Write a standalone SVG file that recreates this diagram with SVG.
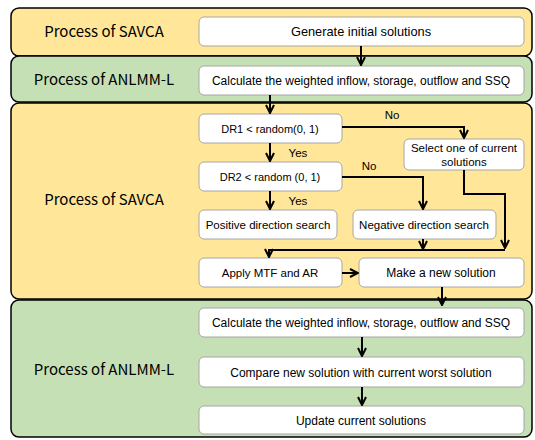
<svg xmlns="http://www.w3.org/2000/svg" width="535" height="440" viewBox="0 0 535 440">
<style>
.yel{fill:#FFE699;stroke:#000;stroke-width:1.5}
.grn{fill:#C5E0B4;stroke:#000;stroke-width:1.5}
.box{fill:#fff;stroke:#a6a6a6;stroke-width:1}
.lbl{font-family:"Noto Sans CJK KR","Noto Sans",sans-serif;font-size:15px;fill:#000;text-anchor:middle}
.t{font-family:"Liberation Sans",Arial,sans-serif;font-size:11.5px;fill:#000;text-anchor:middle}
.w{font-size:12px}
.g{font-size:12.8px}
.s{font-size:11px}
.c{fill:none;stroke:#000;stroke-width:2}
</style>
<defs>
<marker id="ah" viewBox="0 0 10 10" refX="9" refY="5" markerWidth="10" markerHeight="10" markerUnits="userSpaceOnUse" orient="auto">
<path d="M1,1 L9,5 L1,9" fill="none" stroke="#000" stroke-width="2"/>
</marker>
</defs>
<g id="panel1"><rect class="yel" x="11" y="8" width="521" height="48" rx="8"/><text class="lbl" x="104" y="37">Process of SAVCA</text></g>
<g id="panel2"><rect class="grn" x="11" y="56" width="521" height="46" rx="8"/><text class="lbl" x="104" y="85">Process of ANLMM-L</text></g>
<g id="panel3"><rect class="yel" x="11" y="103" width="521" height="196" rx="8"/><text class="lbl" x="104" y="205">Process of SAVCA</text></g>
<g id="panel4"><rect class="grn" x="11" y="300" width="521" height="137" rx="8"/><text class="lbl" x="104" y="375">Process of ANLMM-L</text></g>
<g id="n1"><rect class="box" x="199" y="17" width="325" height="29" rx="5"/><text class="t g" x="361" y="36">Generate initial solutions</text></g>
<g id="n2"><rect class="box" x="199" y="66" width="325" height="29" rx="5"/><text class="t w" x="361" y="85">Calculate the weighted inflow, storage, outflow and SSQ</text></g>
<g id="n3"><rect class="box" x="199" y="114" width="143" height="29" rx="5"/><text class="t s" x="270" y="132.5">DR1 &lt; random(0, 1)</text></g>
<g id="n4"><rect class="box" x="404" y="139" width="120" height="31" rx="5"/><text class="t" x="464" y="152">Select one of current</text><text class="t" x="464" y="166">solutions</text></g>
<g id="n5"><rect class="box" x="199" y="162" width="143" height="29" rx="5"/><text class="t s" x="270" y="180.5">DR2 &lt; random (0, 1)</text></g>
<g id="n6"><rect class="box" x="199" y="210" width="138" height="29" rx="5"/><text class="t" x="268" y="228.5">Positive direction search</text></g>
<g id="n7"><rect class="box" x="353" y="210" width="143" height="29" rx="5"/><text class="t" x="424" y="228.5">Negative direction search</text></g>
<g id="n8"><rect class="box" x="199" y="258" width="143" height="29" rx="5"/><text class="t" x="270" y="276.5">Apply MTF and AR</text></g>
<g id="n9"><rect class="box" x="359" y="258" width="165" height="29" rx="5"/><text class="t w" x="441" y="276.5">Make a new solution</text></g>
<g id="n10"><rect class="box" x="199" y="308" width="325" height="29" rx="5"/><text class="t w" x="361" y="327">Calculate the weighted inflow, storage, outflow and SSQ</text></g>
<g id="n11"><rect class="box" x="199" y="357" width="325" height="30" rx="5"/><text class="t w" x="361" y="376.5">Compare new solution with current worst solution</text></g>
<g id="n12"><rect class="box" x="199" y="406" width="325" height="28" rx="5"/><text class="t w" x="361" y="424.5">Update current solutions</text></g>
<g id="connectors">
<line class="c" x1="361" y1="46" x2="361" y2="65" marker-end="url(#ah)"/>
<line class="c" x1="270" y1="95" x2="270" y2="113" marker-end="url(#ah)"/>
<polyline class="c" points="342,127 464,127 464,138" marker-end="url(#ah)"/>
<line class="c" x1="270" y1="143" x2="270" y2="161" marker-end="url(#ah)"/>
<polyline class="c" points="342,177 423,177 423,209" marker-end="url(#ah)"/>
<line class="c" x1="270" y1="191" x2="270" y2="209" marker-end="url(#ah)"/>
<polyline class="c" points="464,170 464,194 505,194 505,248" marker-end="url(#ah)"/>
<line class="c" x1="423" y1="239" x2="423" y2="249" marker-end="url(#ah)"/>
<polyline class="c" points="505,250 269,250 269,257" marker-end="url(#ah)"/>
<line class="c" x1="342" y1="273" x2="358" y2="273" marker-end="url(#ah)"/>
<line class="c" x1="442" y1="287" x2="442" y2="305" marker-end="url(#ah)"/>
<line class="c" x1="362" y1="337" x2="362" y2="356" marker-end="url(#ah)"/>
<line class="c" x1="362" y1="387" x2="362" y2="405" marker-end="url(#ah)"/>
<text class="t" x="392" y="119">No</text>
<text class="t" x="298" y="157">Yes</text>
<text class="t" x="369" y="170">No</text>
<text class="t" x="298" y="205">Yes</text>
</g>
</svg>
